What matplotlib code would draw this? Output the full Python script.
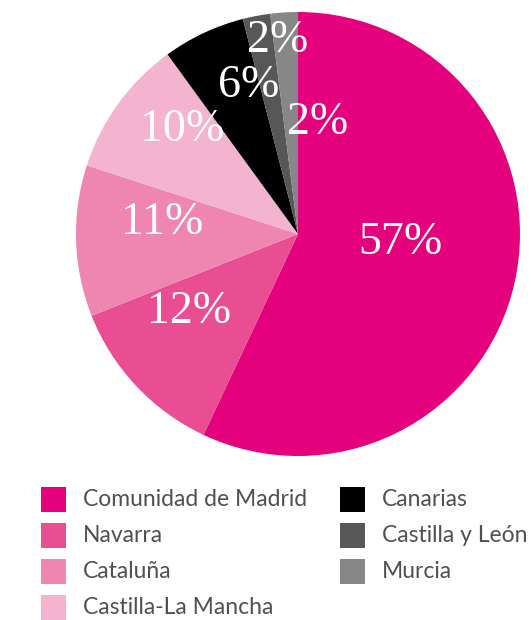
import matplotlib
matplotlib.use("Agg")
import matplotlib.pyplot as plt
from matplotlib.patches import Rectangle

# Share by autonomous community
regions = ["Comunidad de Madrid", "Navarra", "Cataluña", "Castilla-La Mancha",
           "Canarias", "Castilla y León", "Murcia"]
shares = [57, 12, 11, 10, 6, 2, 2]
colors = ["#E5007E", "#E84E91", "#EF86B2", "#F4B3CF",
          "#000000", "#575756", "#878787"]

# Label anchor positions inside the pie (data units, radius = 1)
label_xy = [(0.46, -0.04), (-0.49, -0.35), (-0.61, 0.05), (-0.52, 0.47),
            (-0.22, 0.67), (-0.09, 0.87), (0.09, 0.50)]

W, H = 531, 620
fig = plt.figure(figsize=(W / 100, H / 100), dpi=100)
fig.patch.set_facecolor("white")

cx, cy, r = 298, 234, 222
ax = fig.add_axes([(cx - r) / W, (H - cy - r) / H, 2 * r / W, 2 * r / H])
ax.pie(shares, colors=colors, startangle=90, counterclock=False, radius=1,
       wedgeprops=dict(linewidth=0))
ax.set_xlim(-1, 1)
ax.set_ylim(-1, 1)
ax.set_aspect("equal")
ax.axis("off")

for val, (x, y) in zip(shares, label_xy):
    ax.text(x, y, f"{val}%", ha="center", va="center", color="white",
            fontsize=33, family=["Liberation Serif", "DejaVu Serif"])

# Legend: two columns of square swatches
col_x = [41, 340]
row_y = [499, 535, 571, 607]
sw = 25
for i, (name, c) in enumerate(zip(regions, colors)):
    col = 0 if i < 4 else 1
    row = i if i < 4 else i - 4
    x0 = col_x[col]
    y0 = row_y[row]
    fig.add_artist(Rectangle((x0 / W, (H - y0 - sw / 2) / H), sw / W, sw / H,
                             transform=fig.transFigure, color=c, lw=0))
    fig.text((x0 + 42) / W, (H - y0) / H, name, ha="left", va="center",
             fontsize=16.5, color="#505050",
             family=["Lato", "DejaVu Sans"])

fig.savefig("out.png", dpi=100)
